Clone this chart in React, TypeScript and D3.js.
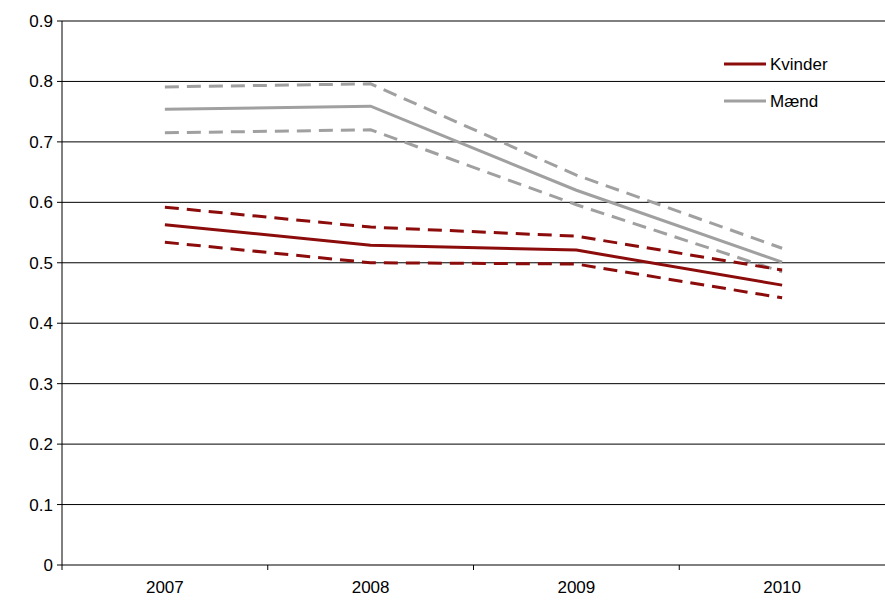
import * as d3 from 'd3';

const years = ['2007', '2008', '2009', '2010'];
const yTicks = [0, 0.1, 0.2, 0.3, 0.4, 0.5, 0.6, 0.7, 0.8, 0.9];

const kvinder = [0.563, 0.529, 0.521, 0.463];
const kvinderUpper = [0.592, 0.559, 0.544, 0.488];
const kvinderLower = [0.534, 0.5, 0.498, 0.442];

const maend = [0.754, 0.759, 0.62, 0.501];
const maendUpper = [0.791, 0.796, 0.645, 0.524];
const maendLower = [0.715, 0.72, 0.596, 0.485];

const RED = '#8c0c0c';
const GRAY = '#a0a0a0';

export default function App() {
  const W = 885, H = 603;
  const left = 62, right = 885, top = 21, bottom = 565;

  const x = d3.scaleBand<string>().domain(years).range([left, right]);
  const y = d3.scaleLinear().domain([0, 0.9]).range([bottom, top]);
  const cx = (i: number) => (x(years[i]) ?? 0) + x.bandwidth() / 2;
  const line = d3.line<number>().x((_, i) => cx(i)).y(d => y(d));

  const series = [
    { d: maendUpper, c: GRAY, dash: '14,8' },
    { d: maendLower, c: GRAY, dash: '14,8' },
    { d: maend, c: GRAY, dash: '' },
    { d: kvinderUpper, c: RED, dash: '14,8' },
    { d: kvinderLower, c: RED, dash: '14,8' },
    { d: kvinder, c: RED, dash: '' },
  ];

  return (
    <svg width={W} height={H} style={{ position: 'absolute', left: 0, top: 0 }}
      fontFamily="'Liberation Sans', Arial, sans-serif" fontSize={17}>
      <rect width={W} height={H} fill="#fff" />
      {yTicks.map(t => (
        <g key={t}>
          <line x1={left} x2={right} y1={y(t)} y2={y(t)} stroke="#000" strokeWidth={1} />
          <line x1={left - 5} x2={left} y1={y(t)} y2={y(t)} stroke="#000" />
          <text x={left - 9} y={y(t)} dy="0.35em" textAnchor="end">{t === 0 ? '0' : t.toFixed(1)}</text>
        </g>
      ))}
      <line x1={left} x2={left} y1={top} y2={bottom} stroke="#000" />
      {years.map((yr, i) => (
        <g key={yr}>
          <line x1={x(yr)} x2={x(yr)} y1={bottom} y2={bottom + 5} stroke="#000" />
          <text x={cx(i)} y={bottom + 28} textAnchor="middle">{yr}</text>
        </g>
      ))}
      {series.map((s, i) => (
        <path key={i} d={line(s.d) ?? ''} fill="none" stroke={s.c} strokeWidth={3}
          strokeDasharray={s.dash || undefined} />
      ))}
      <line x1={724} x2={766} y1={64} y2={64} stroke={RED} strokeWidth={3} />
      <text x={770} y={64} dy="0.35em">Kvinder</text>
      <line x1={724} x2={766} y1={101} y2={101} stroke={GRAY} strokeWidth={3} />
      <text x={770} y={101} dy="0.35em">Mænd</text>
    </svg>
  );
}
